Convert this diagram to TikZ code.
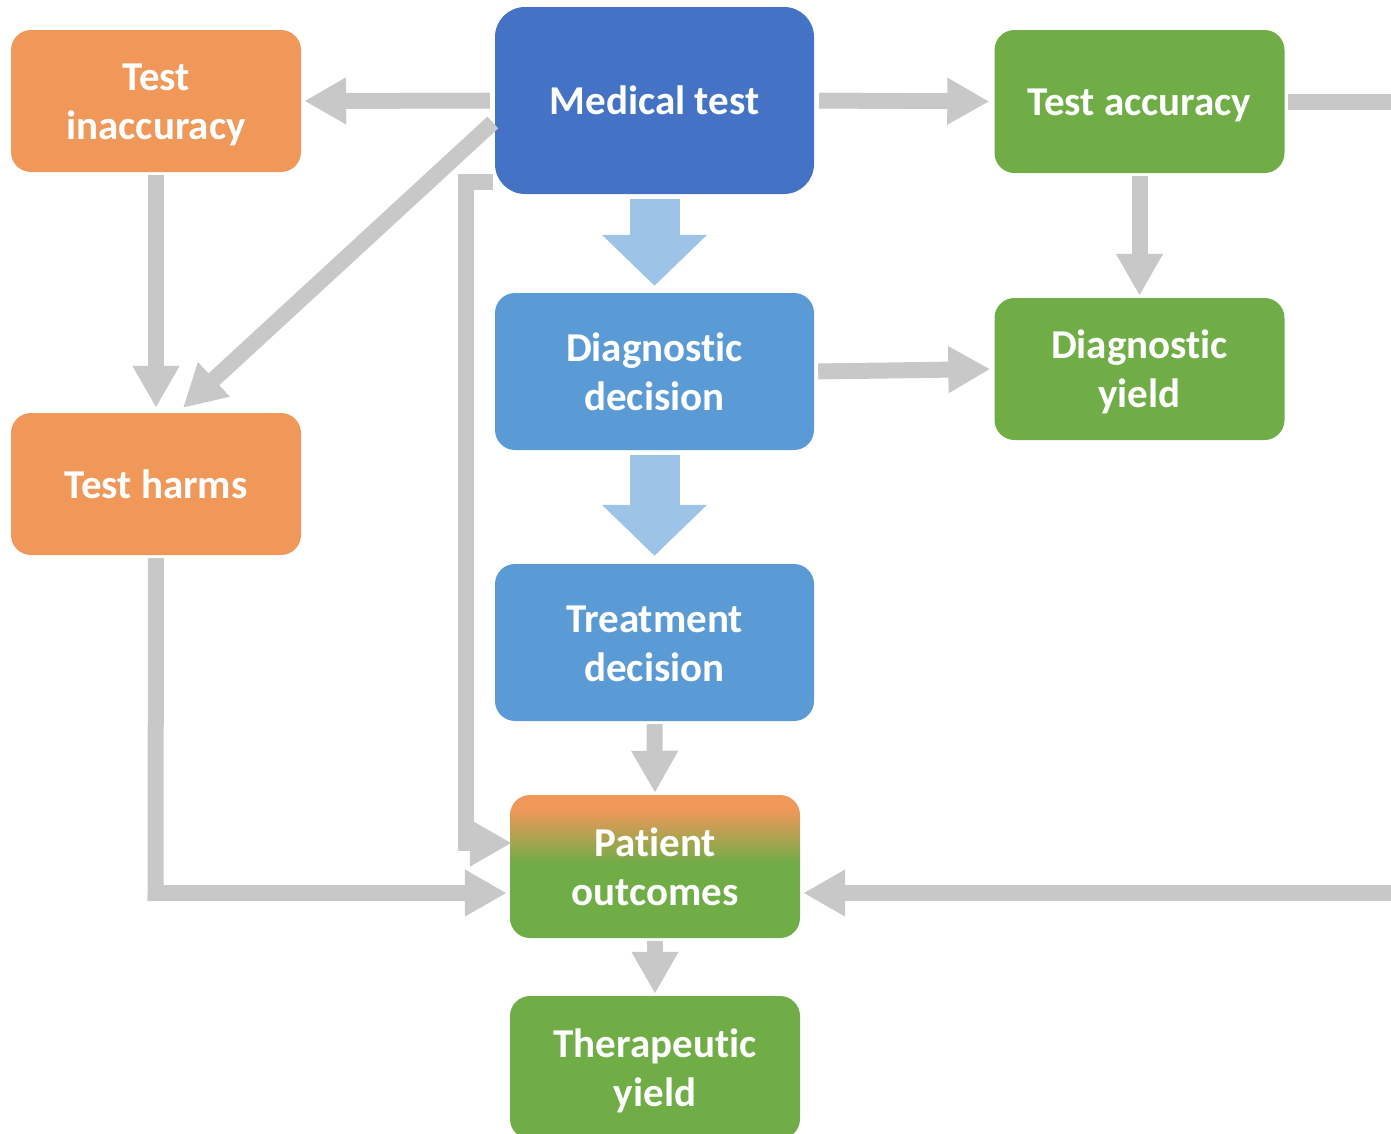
\documentclass[tikz,border=0pt]{standalone}
\usepackage{fontspec}
\setmainfont{Carlito}[Ligatures=NoCommon]
\usetikzlibrary{arrows.meta,calc}

\definecolor{boxorange}{HTML}{F0975A}
\definecolor{boxgreen}{HTML}{70AD47}
\definecolor{boxblue}{HTML}{4472C4}
\definecolor{boxlightblue}{HTML}{5B9BD5}
\definecolor{arrowblue}{HTML}{9DC3E6}
\definecolor{flowgray}{HTML}{C8C8C8}

% orange at the top blending into green below the middle
\pgfdeclareverticalshading{outcomeshade}{100bp}{color(0bp)=(boxgreen); color(51bp)=(boxgreen); color(70bp)=(boxorange); color(100bp)=(boxorange)}

% invisible line strut so every line is centred on the font's ascent/descent
\newcommand{\linestrut}{\rule[-6.5pt]{0pt}{41pt}}

\begin{document}
\begin{tikzpicture}[x=1pt,y=-1pt,
  box/.style={rounded corners=20pt, text=white, align=center, inner sep=0pt,
    font=\fontsize{41}{49}\selectfont\bfseries},
  orangebox/.style={box, fill=boxorange, minimum width=290pt, minimum height=142pt},
  greenbox/.style={box, fill=boxgreen, minimum width=290pt, minimum height=143pt},
  bluebox/.style={box, fill=boxlightblue, minimum width=319pt, minimum height=157pt},
  flow/.style={draw=flowgray, line width=16pt, -{Triangle[width=44pt,length=42pt]}},
  blockflow/.style={draw=arrowblue, line width=50pt, -{Triangle[width=102pt,length=51pt]}}
]
\useasboundingbox (0,0) rectangle (1391,1133);
\clip (0,0) rectangle (1391,1133);

% boxes
\node[box, fill=boxblue, rounded corners=30pt, minimum width=319pt, minimum height=187pt] (mt) at (654.5,100.5) {\linestrut Medical test};
\node[orangebox] (ti) at (156,101) {\linestrut Test\\\linestrut inaccuracy};
\node[orangebox] (th) at (156,484) {\linestrut Test harms};
\node[greenbox] (ta) at (1139.5,101.5) {\linestrut Test accuracy};
\node[bluebox] (dd) at (654.5,371.5) {\linestrut Diagnostic\\\linestrut decision};
\node[greenbox, minimum height=142pt] (dy) at (1139.5,369) {\linestrut Diagnostic\\\linestrut yield};
\node[bluebox] (td) at (654.5,642.5) {\linestrut Treatment\\\linestrut decision};
\node[box, shading=outcomeshade, minimum width=290pt, minimum height=143pt] (po) at (655,866.5) {\linestrut Patient\\\linestrut outcomes};
\node[greenbox] (ty) at (655,1067.5) {\linestrut Therapeutic\\\linestrut yield};

% helper points for the routed connectors
\coordinate (mtlow) at ($(mt.south west)+(0,-12)$);
\coordinate (lbend) at (466,843);
\coordinate (poinA) at ($(po.west)+(2,-23.5)$);
\coordinate (poinB) at ($(po.west)+(-3,26.5)$);
\coordinate (hbend) at (155.5,893);
\coordinate (poinC) at ($(po.east)+(3,26.5)$);
\coordinate (offtop) at (1430,101.5);
\coordinate (offbot) at (1430,893);
\coordinate (diagstart) at ($(mt.west)+(-2,22)$);
\coordinate (diagend) at ($(th.north)+(27,-5)$);

% main vertical flow
\draw[blockflow, shorten <=5pt, shorten >=7pt] (mt.south) -- (dd.north);
\draw[blockflow, shorten <=5pt, shorten >=8pt] (dd.south) -- (td.north);
\draw[flow, shorten <=3pt, shorten >=2pt] (td.south) -- (po.north);
\draw[flow, shorten <=3pt, shorten >=2pt] (po.south) -- (ty.north);

% side connectors
\draw[flow, shorten <=5pt, shorten >=3pt] (mt.west) -- (ti.east);
\draw[flow, shorten <=5pt, shorten >=5pt] (mt.east) -- (ta.west);
\draw[flow, shorten <=3pt, shorten >=5pt] (ti.south) -- (th.north);
\draw[flow] (diagstart) -- (diagend);
\draw[flow, shorten <=3pt, shorten >=2pt] (ta.south) -- (dy.north);
\draw[flow, shorten <=4pt, shorten >=4pt] (dd.east) -- (dy.west);
\draw[flow, shorten <=2pt] (mtlow) -| (lbend) -- (poinA);
\draw[flow, shorten <=3pt] (th.south) -- (hbend) -- (poinB);
\draw[flow, shorten <=3pt] (ta.east) -- (offtop) -- (offbot) -- (poinC);
\end{tikzpicture}
\end{document}
